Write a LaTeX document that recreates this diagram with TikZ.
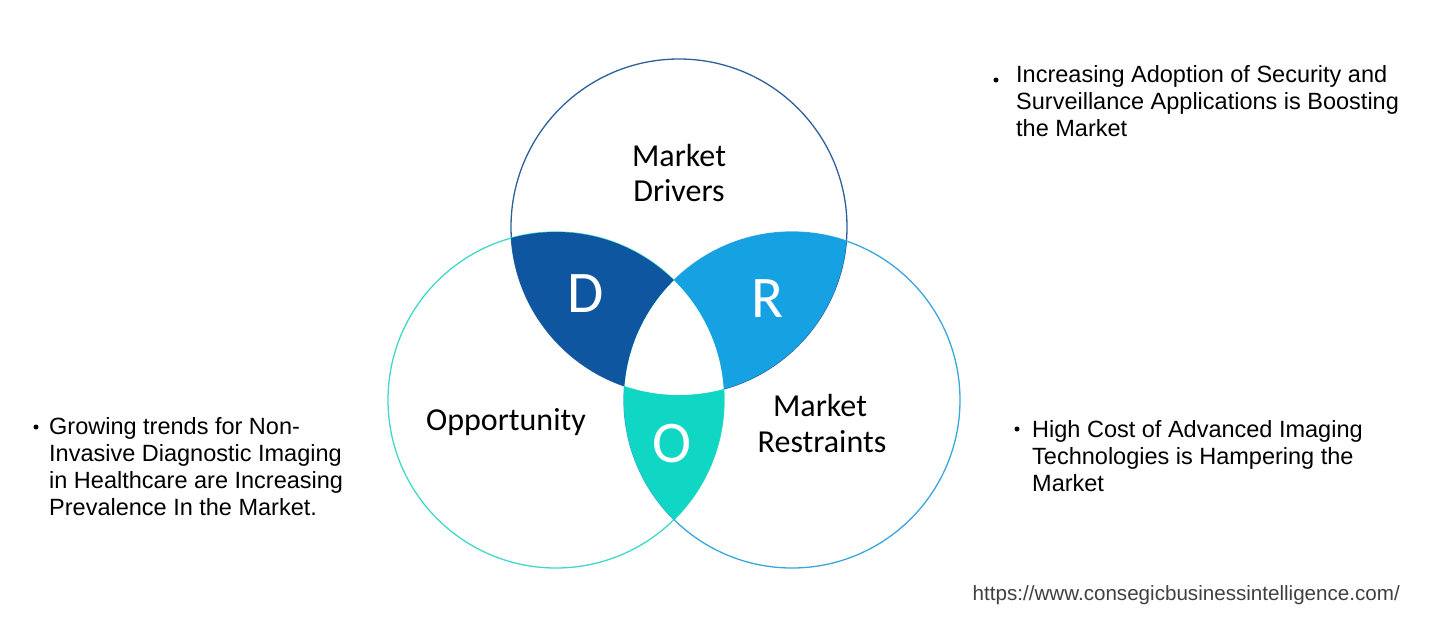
\documentclass[tikz,border=0pt]{standalone}
\usepackage{fontspec}
\setmainfont{Liberation Sans}
\newfontfamily\venn{Carlito}
\definecolor{dcol}{HTML}{0E57A0}
\definecolor{rcol}{HTML}{16A1E2}
\definecolor{ocol}{HTML}{10D7C3}
\definecolor{tline}{HTML}{2D5F9C}
\definecolor{lline}{HTML}{3FD8C9}
\definecolor{rline}{HTML}{3AA6DF}
\definecolor{urlcol}{HTML}{404040}
\tikzset{
  vlabel/.style={font=\venn\fontsize{32}{36}\selectfont, inner sep=0pt, anchor=base},
  letter/.style={font=\venn\fontsize{59}{62}\selectfont, text=white, inner sep=0pt, anchor=base},
  bl/.style={font=\fontsize{23.5}{27}\selectfont, inner sep=0pt, anchor=base west, text=black},
  dot/.style={circle, fill=black, inner sep=0pt, minimum size=5pt},
  ring/.style={line width=1.3pt}
}
\begin{document}
\begin{tikzpicture}[x=1pt,y=-1pt]
\useasboundingbox (0,0) rectangle (1453,643);
\coordinate (T) at (679,227);
\coordinate (L) at (556,400);
\coordinate (R) at (792,400);
\def\rr{168}
% outlines
\draw[ring, tline] (T) circle (\rr);
\draw[ring, lline] (L) circle (\rr);
\draw[ring, rline] (R) circle (\rr);
% fills
\begin{scope}\clip (T) circle (\rr); \fill[dcol] (L) circle (\rr); \end{scope}
\begin{scope}\clip (T) circle (\rr); \fill[rcol] (R) circle (\rr); \end{scope}
\begin{scope}\clip (L) circle (\rr); \fill[ocol] (R) circle (\rr); \end{scope}
\begin{scope}\clip (L) circle (\rr); \clip (R) circle (\rr); \fill[white] (T) circle (\rr); \end{scope}
% labels
\node[vlabel] (md1) at (679,166) {Market};
\node[vlabel] (md2) at (679,201) {Drivers};
\node[vlabel] (op) at (506,430) {Opportunity};
\node[vlabel] (mr1) at (820,416) {Market};
\node[vlabel] (mr2) at (822,452) {Restraints};
\node[letter] (ld) at (586,312) {D};
\node[letter] (lr) at (768,317) {R};
\node[letter] (lo) at (672,462) {O};
% top right
\node[dot] (b1) at (996,80) {};
\node[bl] (t1) at (1016,82) {Increasing Adoption of Security and};
\node[bl] (t2) at (1016,109) {Surveillance Applications is Boosting};
\node[bl] (t3) at (1016,136) {the Market};
% left
\node[dot] (b2) at (36,427) {};
\node[bl] (l1) at (49,434) {Growing trends for Non-};
\node[bl] (l2) at (49,461) {Invasive Diagnostic Imaging};
\node[bl] (l3) at (49,488) {in Healthcare are Increasing};
\node[bl] (l4) at (49,515) {Prevalence In the Market.};
% bottom right
\node[dot] (b3) at (1017,429) {};
\node[bl] (r1) at (1032,437) {High Cost of Advanced Imaging};
\node[bl] (r2) at (1032,464) {Technologies is Hampering the};
\node[bl] (r3) at (1032,491) {Market};
% url
\node[font=\fontsize{20.6}{23}\selectfont, text=urlcol, inner sep=0pt, anchor=base east] (url) at (1400,600) {https://www.consegicbusinessintelligence.com/};
\end{tikzpicture}
\end{document}
